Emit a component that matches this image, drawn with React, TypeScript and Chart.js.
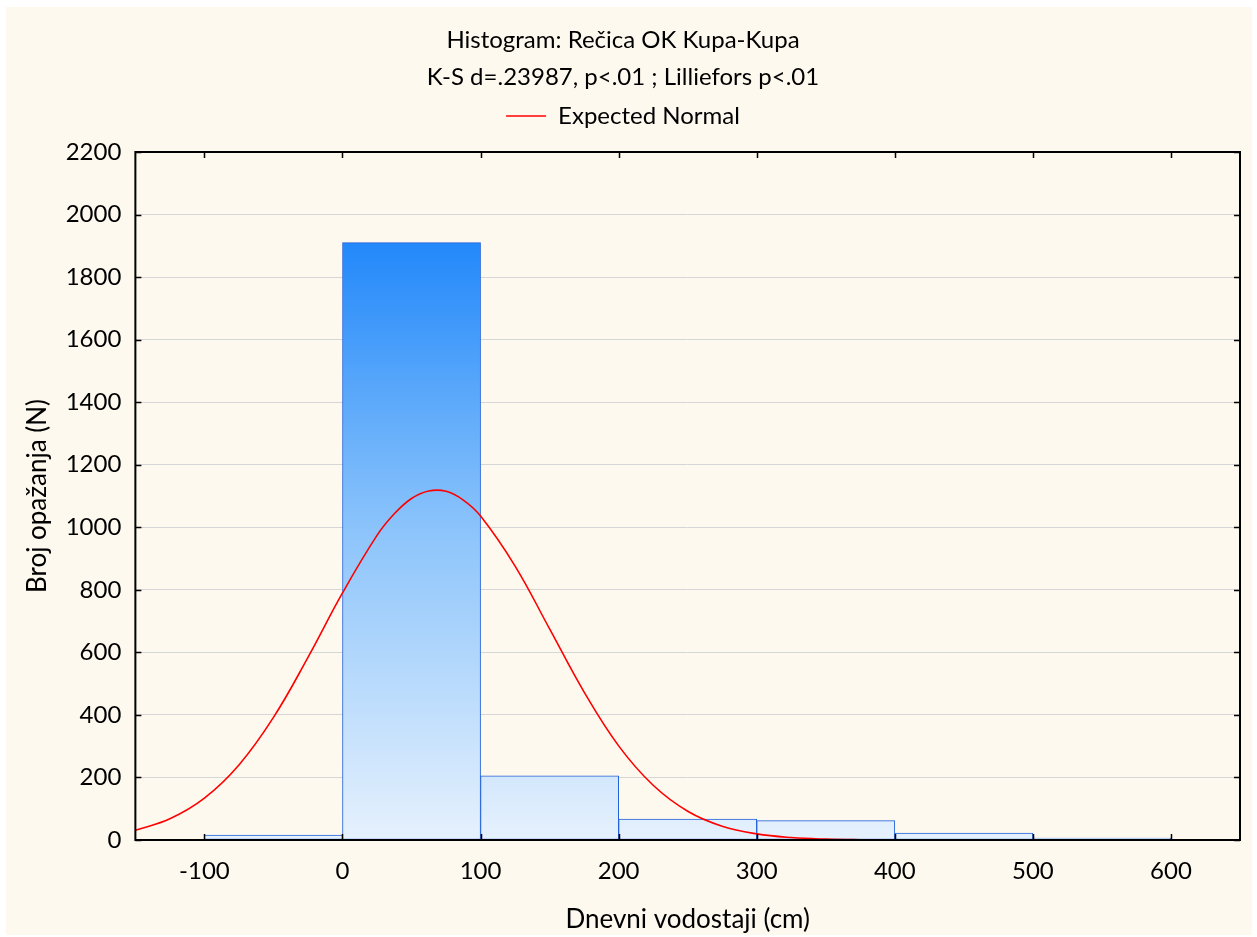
import React, { useEffect, useRef } from "react";
import { Chart, registerables } from "chart.js";

Chart.register(...registerables);

// Histogram bins (bin centers) and observed counts
const binCenters = [-50, 50, 150, 250, 350, 450, 550];
const binCounts = [16, 1910, 205, 67, 62, 22, 6];

// Expected normal curve
const curveX = [-150, -125, -100, -75, -50, -25, 0, 25, 37.5, 50, 62.5, 75, 87.5, 100, 125, 150, 175, 200, 225, 250, 275, 300, 325, 350, 375, 400, 425, 450, 500, 550, 600, 650];
const curveY = [31, 68, 134, 240, 392, 584, 790, 974, 1043, 1092, 1116, 1115, 1087, 1036, 876, 675, 473, 301, 175, 92, 44, 19.5, 7.8, 2.8, 0.9, 0.3, 0.1, 0, 0, 0, 0, 0];

const xTicks = [-100, 0, 100, 200, 300, 400, 500, 600];
const yTicks = [0, 200, 400, 600, 800, 1000, 1200, 1400, 1600, 1800, 2000, 2200];

const titleLines = ["Histogram: Rečica OK Kupa-Kupa", "K-S d=.23987, p<.01 ; Lilliefors p<.01"];
const legendLabel = "Expected Normal";
const xTitle = "Dnevni vodostaji (cm)";
const yTitle = "Broj opažanja (N)";

const FONT = "Lato, 'Open Sans', sans-serif";
const FS = 24;
const AFS = 26;

const framePlugin = {
  id: "frameTicks",
  afterDatasetsDraw(chart: any) {
    const { ctx, chartArea, scales } = chart;
    const { left, right, top, bottom } = chartArea;
    ctx.save();
    ctx.strokeStyle = "#000";
    ctx.lineWidth = 1.5;
    ctx.beginPath();
    for (const v of xTicks) {
      const px = Math.round(scales.x.getPixelForValue(v)) + 0.5;
      ctx.moveTo(px, bottom);
      ctx.lineTo(px, bottom - 6);
      ctx.moveTo(px, top);
      ctx.lineTo(px, top + 6);
    }
    for (const v of yTicks) {
      const py = Math.round(scales.y.getPixelForValue(v)) + 0.5;
      ctx.moveTo(left, py);
      ctx.lineTo(left + 6, py);
      ctx.moveTo(right, py);
      ctx.lineTo(right - 6, py);
    }
    ctx.stroke();
    ctx.lineWidth = 2;
    ctx.strokeRect(left, top, right - left, bottom - top);
    ctx.restore();
  },
};

export default function App() {
  const ref = useRef<HTMLCanvasElement>(null);
  useEffect(() => {
    const canvas = ref.current!;
    const chart = new Chart(canvas, {
      type: "bar",
      data: {
        datasets: [
          {
            type: "line",
            label: legendLabel,
            data: curveX.map((x, i) => ({ x, y: curveY[i] })),
            borderColor: "#ff0000",
            backgroundColor: "#ff0000",
            borderWidth: 1.6,
            pointRadius: 0,
            tension: 0.4,
            fill: false,
            order: 0,
          } as any,
          {
            type: "bar",
            label: "Counts",
            data: binCenters.map((x, i) => ({ x, y: binCounts[i] })),
            backgroundColor: (c: any) => {
              const area = c.chart.chartArea;
              if (!area) return "#8cc4fb";
              const g = c.chart.ctx.createLinearGradient(0, area.top, 0, area.bottom);
              g.addColorStop(0, "#1a80f8");
              g.addColorStop(0.13, "#2288fa");
              g.addColorStop(0.55, "#8cc4fb");
              g.addColorStop(1, "#e6f1fd");
              return g;
            },
            borderColor: "#2160d8",
            borderWidth: 1,
            borderSkipped: false,
            barPercentage: 1,
            categoryPercentage: 1,
            order: 1,
          } as any,
        ],
      },
      options: {
        animation: false,
        responsive: false,
        layout: { padding: { left: 0, right: 12, top: 0, bottom: 0 } },
        plugins: {
          title: {
            display: true,
            text: titleLines,
            color: "#000",
            font: { family: FONT, size: FS, weight: "normal", lineHeight: 37 / FS },
            padding: { top: 15, bottom: -16 },
          },
          subtitle: {
            display: true,
            text: "",
            weight: 500,
            position: "top",
            font: { family: FONT, size: 10, lineHeight: 1 },
            padding: { top: 4, bottom: 0 },
          },
          legend: {
            display: true,
            position: "top",
            labels: {
              filter: (item: any) => item.text === legendLabel,
              usePointStyle: true,
              pointStyle: "line",
              pointStyleWidth: 40,
              color: "#000",
              font: { family: FONT, size: FS },
              padding: 24,
            },
          },
          tooltip: { enabled: false },
        },
        scales: {
          x: {
            type: "linear",
            min: -150,
            max: 650,
            offset: false,
            afterBuildTicks: (s: any) => {
              s.ticks = xTicks.map((v) => ({ value: v }));
            },
            grid: { display: false, drawTicks: false, offset: false },
            border: { display: false },
            ticks: { color: "#000", font: { family: FONT, size: FS }, padding: 17, maxRotation: 0 },
            title: {
              display: true,
              text: xTitle,
              color: "#000",
              font: { family: FONT, size: AFS },
              padding: { top: 1, bottom: 0 },
            },
          },
          y: {
            type: "linear",
            min: 0,
            max: 2200,
            afterBuildTicks: (s: any) => {
              s.ticks = yTicks.map((v) => ({ value: v }));
            },
            grid: { color: "#d6d6d6", lineWidth: 1, drawTicks: false },
            border: { display: false },
            ticks: {
              color: "#000",
              font: { family: FONT, size: FS },
              padding: 14,
              callback: (v: any) => String(v),
            },
            title: {
              display: true,
              text: yTitle,
              color: "#000",
              font: { family: FONT, size: AFS },
              padding: { top: 16, bottom: -1.5 },
            },
          },
        },
      },
      plugins: [framePlugin],
    } as any);
    return () => chart.destroy();
  }, []);
  return (
    <div style={{ position: "absolute", left: 0, top: 0, width: 1257, height: 937, background: "#ffffff" }}>
      <div style={{ position: "absolute", left: 6, top: 7, width: 1246, height: 928, background: "#fdf9ee" }}>
        <canvas ref={ref} width={1246} height={928} style={{ display: "block" }} />
      </div>
    </div>
  );
}
